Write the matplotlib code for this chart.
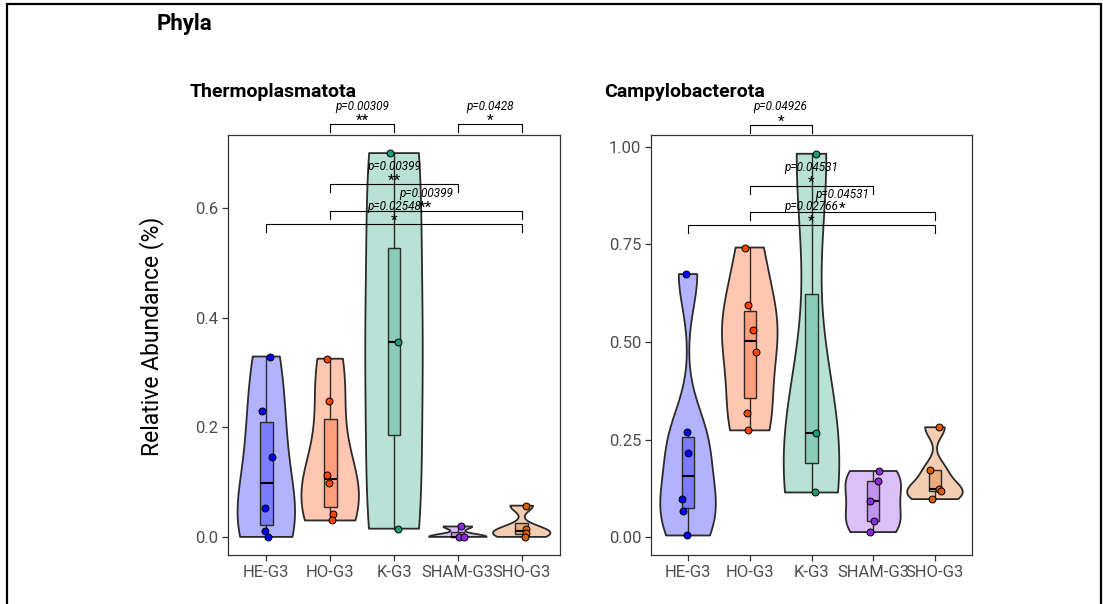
import numpy as np
import matplotlib
matplotlib.use("Agg")
import matplotlib.pyplot as plt
from matplotlib.patches import Rectangle

plt.rcParams['font.family'] = ['Roboto', 'DejaVu Sans']

groups = ["HE-G3", "HO-G3", "K-G3", "SHAM-G3", "SHO-G3"]
colors = ["#0000FF", "#FF4500", "#1B9E77", "#8A2BE2", "#D95F02"]

# Thermoplasmatota values per group
thermo_he = [0.329, 0.230, 0.145, 0.052, 0.0115, 0.0]
thermo_ho = [0.325, 0.248, 0.113, 0.098, 0.041, 0.030]
thermo_k = [0.700, 0.355, 0.015]
thermo_sham = [0.019, 0.0005, 0.0]
thermo_sho = [0.057, 0.015, 0.007, 0.0]

# Campylobacterota values per group
campy_he = [0.674, 0.271, 0.217, 0.099, 0.0665, 0.005]
campy_ho = [0.742, 0.594, 0.531, 0.475, 0.318, 0.274]
campy_k = [0.982, 0.266, 0.115]
campy_sham = [0.170, 0.144, 0.093, 0.042, 0.0136]
campy_sho = [0.282, 0.172, 0.1236, 0.1185, 0.098]

# jitter offsets (category units)
thermo_jit = [[0.05, -0.06, 0.09, -0.02, -0.02, 0.02],
              [-0.05, -0.02, -0.05, -0.02, 0.05, 0.03],
              [-0.06, 0.06, 0.06],
              [0.05, 0.02, 0.09],
              [0.06, 0.06, 0.06, 0.05]]
campy_jit = [[-0.04, -0.02, 0.0, -0.1, -0.08, -0.02],
             [-0.08, -0.03, 0.05, 0.1, -0.05, -0.03],
             [0.08, 0.08, 0.06],
             [0.1, 0.08, -0.05, 0.02, -0.06],
             [0.06, -0.08, 0.06, 0.1, -0.05]]

# significance brackets: (group i, group j, level, p label, stars)
thermo_sig = [(1, 2, 0.7524, "p=0.00309", "**"),
              (3, 4, 0.7524, "p=0.0428", "*"),
              (1, 3, 0.643, "p=0.00399", "**"),
              (1, 4, 0.594, "p=0.00399", "**"),
              (0, 4, 0.570, "p=0.02548", "*")]
campy_sig = [(1, 2, 1.0555, "p=0.04926", "*"),
             (1, 3, 0.900, "p=0.04531", "*"),
             (1, 4, 0.832, "p=0.04531", "*"),
             (0, 4, 0.800, "p=0.02766", "*")]

thermo_data = [thermo_he, thermo_ho, thermo_k, thermo_sham, thermo_sho]
campy_data = [campy_he, campy_ho, campy_k, campy_sham, campy_sho]

EDGE = "#2b2b2b"


def density(vals, n=512):
    x = np.asarray(vals, dtype=float)
    m = len(x)
    sd = x.std(ddof=1)
    q75, q25 = np.percentile(x, [75, 25])
    lo = min(sd, (q75 - q25) / 1.34)
    if lo <= 0:
        lo = sd if sd > 0 else 1.0
    bw = 0.9 * lo * m ** -0.2
    grid = np.linspace(x.min(), x.max(), n)
    d = np.exp(-0.5 * ((grid[:, None] - x[None, :]) / bw) ** 2).sum(axis=1)
    return grid, d / d.max()


def panel(ax, data, jit, sig, ylim, yticks, ytlabels):
    for i, (vals, col) in enumerate(zip(data, colors)):
        g, d = density(vals)
        ax.fill_betweenx(g, i - 0.45 * d, i + 0.45 * d, facecolor=col, alpha=0.3,
                         edgecolor='none', zorder=1)
        ax.fill_betweenx(g, i - 0.45 * d, i + 0.45 * d, facecolor='none',
                         edgecolor=EDGE, lw=1.3, zorder=2)
        bp = ax.boxplot([vals], positions=[i], widths=0.2, patch_artist=True,
                        showfliers=False, showcaps=False, whis=1.5,
                        manage_ticks=False, zorder=3)
        for b in bp['boxes']:
            b.set_facecolor(matplotlib.colors.to_rgba(col, 0.3))
            b.set_edgecolor(EDGE)
            b.set_linewidth(1.0)
        for w in bp['whiskers']:
            w.set_color(EDGE)
            w.set_linewidth(1.0)
        for md in bp['medians']:
            md.set_color('black')
            md.set_linewidth(1.5)
        xs = [i + o for o in jit[i]]
        ax.scatter(xs, vals, s=25, facecolor=col, edgecolor='black', lw=0.7, zorder=5)

    ax.set_xlim(-0.6, 4.6)
    ax.set_ylim(*ylim)
    ax.set_xticks(range(len(groups)))
    ax.set_xticklabels(groups)
    ax.set_yticks(yticks)
    ax.set_yticklabels(ytlabels)
    ax.tick_params(colors='#333333', labelcolor='#4D4D4D', labelsize=12,
                   length=4, width=0.9, pad=3)
    for s in ax.spines.values():
        s.set_color('#333333')
        s.set_linewidth(0.9)

    yr = ylim[1] - ylim[0]
    tick = 0.019 * yr
    for (i, j, lev, ptxt, star) in sig:
        ax.plot([i, i, j, j], [lev - tick, lev, lev, lev - tick], color='black',
                lw=0.8, clip_on=False, zorder=6)
        xm = (i + j) / 2
        ax.annotate(star, (xm, lev), xytext=(0, -0.5), textcoords='offset points',
                    ha='center', va='baseline', fontsize=11, annotation_clip=False,
                    zorder=7)
        ax.annotate(ptxt, (xm, lev), xytext=(0, 13), textcoords='offset points',
                    ha='center', va='center', fontsize=8.5, style='italic',
                    annotation_clip=False, zorder=7)


fig = plt.figure(figsize=(11.03, 6.04), dpi=100)
W, H = 1103, 604
ax1 = fig.add_axes([228 / W, 1 - 555 / H, 332 / W, 420 / H])
ax2 = fig.add_axes([651 / W, 1 - 555 / H, 321 / W, 420 / H])

panel(ax1, thermo_data, thermo_jit, thermo_sig, (-0.033, 0.733),
      [0.0, 0.2, 0.4, 0.6], ["0.0", "0.2", "0.4", "0.6"])
panel(ax2, campy_data, campy_jit, campy_sig, (-0.045, 1.03),
      [0.0, 0.25, 0.5, 0.75, 1.0], ["0.00", "0.25", "0.50", "0.75", "1.00"])

fig.text(157 / W, 1 - 30 / H, "Phyla", fontsize=16, fontweight='bold', va='baseline')
fig.text(190 / W, 1 - 97 / H, "Thermoplasmatota", fontsize=14, fontweight='bold',
         va='baseline')
fig.text(604 / W, 1 - 97 / H, "Campylobacterota", fontsize=14, fontweight='bold',
         va='baseline')
fig.text(152 / W, 1 - 336 / H, "Relative Abundance (%)", fontsize=16.5,
         rotation=90, ha='center', va='center', color='black')

fig.patches.append(Rectangle((7 / W, -0.1), (1101 - 7) / W, 1.1 - 4 / H,
                             transform=fig.transFigure, fill=False,
                             edgecolor='black', lw=1.6, clip_on=False))

fig.savefig("out.png", dpi=100)
